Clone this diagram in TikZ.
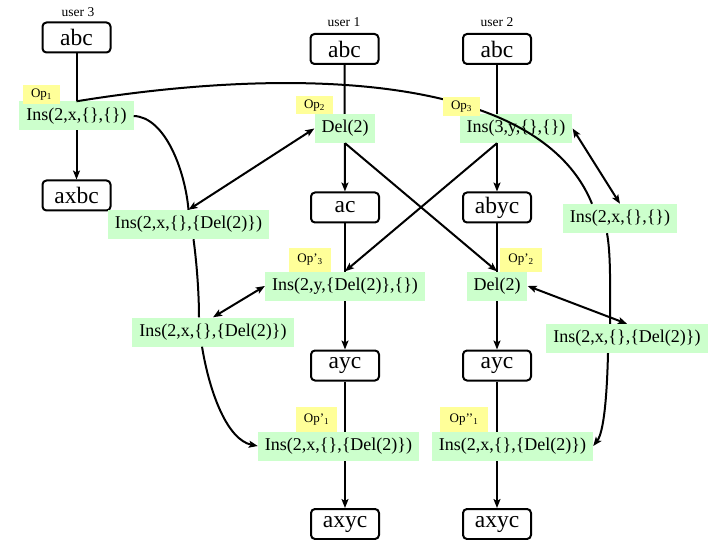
\documentclass[tikz,border=0pt]{standalone}
\usepackage{fontspec}
\setmainfont{Liberation Serif}
\usetikzlibrary{arrows.meta}
\pgfdeclarelayer{background}
\pgfsetlayers{background,main}
\definecolor{opgreen}{RGB}{204,255,204}
\definecolor{opyellow}{RGB}{255,255,153}
\begin{document}
\begin{tikzpicture}[x=1pt,y=-1pt,
  state/.style={draw, line width=2pt, rounded corners=4pt, fill=white,
    minimum width=68pt, minimum height=30pt, inner sep=0pt,
    font=\fontsize{23.5}{26}\selectfont},
  opbox/.style={fill=opgreen, inner xsep=7pt, inner ysep=0pt,
    minimum height=29pt, font=\fontsize{18}{20}\selectfont},
  oplabel/.style={fill=opyellow, inner sep=0pt, font=\fontsize{13}{15}\selectfont},
  userlabel/.style={inner sep=0pt, font=\fontsize{13.5}{15}\selectfont},
  conn/.style={line width=2pt},
  arr/.style={conn, -{Stealth[length=9pt,width=7pt,inset=2pt]}},
  darr/.style={conn, {Stealth[length=9pt,width=7pt,inset=2pt]}-{Stealth[length=9pt,width=7pt,inset=2pt]}}
]
\useasboundingbox (0,0) rectangle (720,540);

% user labels
\node[userlabel] (lu3) at (78,12) {user 3};
\node[userlabel] (lu1) at (344,22) {user 1};
\node[userlabel] (lu2) at (497,22) {user 2};

% states
\node[state] (u3abc) at (76.5,37.5) {abc};
\node[state] (u1abc) at (344.5,49) {abc};
\node[state] (u2abc) at (497,49) {abc};
\node[state] (axbc) at (76.5,195.5) {axbc};
\node[state] (ac) at (345,207.5) {ac};
\node[state] (abyc) at (497,207.5) {abyc};
\node[state] (ayc1) at (345,365.5) {ayc};
\node[state] (ayc2) at (497,365.5) {ayc};
\node[state] (axyc1) at (345,524) {axyc};
\node[state] (axyc2) at (497,524) {axyc};

% vertical history arrows (behind the operation boxes)
\begin{pgfonlayer}{background}
\draw[arr] (u3abc) -- (axbc);
\draw[arr] (u1abc) -- (ac);
\draw[arr] (u2abc) -- (abyc);
\draw[arr] (ac) -- (ayc1);
\draw[arr] (abyc) -- (ayc2);
\draw[arr] (ayc1) -- (axyc1);
\draw[arr] (ayc2) -- (axyc2);
\end{pgfonlayer}

% operation boxes
\node[opbox] (op1) at (76.5,116) {Ins(2,x,\{\},\{\})};
\node[opbox] (op2) at (345,128.5) {Del(2)};
\node[opbox] (op3) at (516,128.5) {Ins(3,y,\{\},\{\})};
\node[opbox] (ul) at (188.5,224.5) {Ins(2,x,\{\},\{Del(2)\})};
\node[opbox] (r1) at (620,218.5) {Ins(2,x,\{\},\{\})};
\node[opbox] (op3p) at (345,286) {Ins(2,y,\{Del(2)\},\{\})};
\node[opbox] (op2p) at (497,286) {Del(2)};
\node[opbox] (lm) at (213,332) {Ins(2,x,\{\},\{Del(2)\})};
\node[opbox] (rm) at (627,338.5) {Ins(2,x,\{\},\{Del(2)\})};
\node[opbox] (op1p) at (338.5,446) {Ins(2,x,\{\},\{Del(2)\})};
\node[opbox] (op1pp) at (512.5,446) {Ins(2,x,\{\},\{Del(2)\})};

% long transformation path of Op1 (over op3 box, under yellow labels)
\draw[conn] (op1.north) .. controls (300,65) and (540,75) .. ([xshift=-28pt]r1.north);

% yellow labels
\node[oplabel, minimum width=37pt, minimum height=19pt] (y1) at (41.5,94.5) {Op\textsubscript{1}};
\node[oplabel, minimum width=37pt, minimum height=18pt] (y2) at (314.5,105.5) {Op\textsubscript{2}};
\node[oplabel, minimum width=37pt, minimum height=19pt] (y3) at (461.5,106.5) {Op\textsubscript{3}};
\node[oplabel, minimum width=42pt, minimum height=24pt] (y3p) at (310,260) {Op’\textsubscript{3}};
\node[oplabel, minimum width=42pt, minimum height=24pt] (y2p) at (521,260) {Op’\textsubscript{2}};
\node[oplabel, minimum width=41pt, minimum height=25pt] (y1p) at (316.5,419.5) {Op’\textsubscript{1}};
\node[oplabel, minimum width=48pt, minimum height=25pt] (y1pp) at (464,419.5) {Op’’\textsubscript{1}};

% right-hand transformation chain
\draw[conn] ([xshift=-13pt]r1.south) .. controls (611,255) and (610,290) .. ([xshift=-17pt]rm.north);
\draw[arr] ([xshift=-19pt]rm.south) .. controls (607,395) and (604,432) .. (op1pp.east);

% left-hand transformation chain
\draw[conn] (op1.east) .. controls (165,117) and (185,170) .. (ul.north);
\draw[conn] ([xshift=5pt]ul.south) .. controls (197,265) and (199,295) .. ([xshift=-14pt]lm.north);
\draw[arr] ([xshift=-11pt]lm.south) .. controls (210,395) and (228,440) .. (op1p.west);

% concurrency (double) arrows
\draw[darr] (ul.north) -- (op2.west);
\draw[darr] (op3.east) -- (r1.north);
\draw[darr] (op3p.west) -- (lm.north);
\draw[darr] (op2p.east) -- (rm.north);

% crossing transformations
\draw[arr] (op2.south) -- (op2p.north);
\draw[arr] ([xshift=-19pt]op3.south) -- (op3p.north);
\end{tikzpicture}
\end{document}
